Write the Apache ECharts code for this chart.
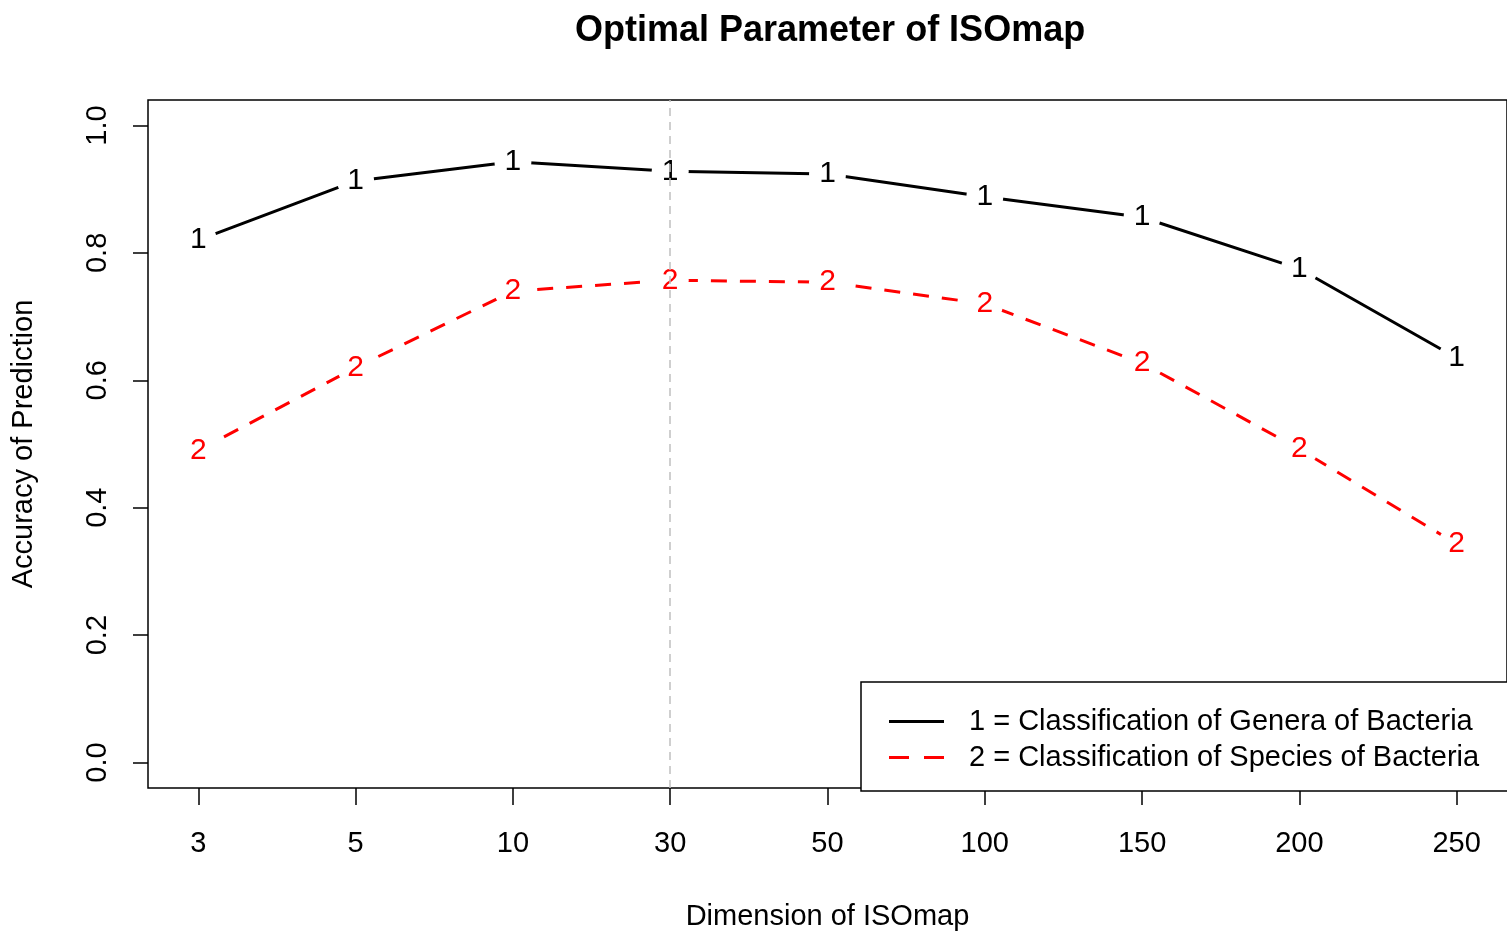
<!DOCTYPE html>
<html>
<head>
<meta charset="utf-8">
<title>Optimal Parameter of ISOmap</title>
<script src="https://cdn.jsdelivr.net/npm/echarts@6/dist/echarts.min.js"></script>
<style>
  html, body { margin: 0; padding: 0; background: #fff; overflow: hidden; }
  #chart-container { width: 1507px; height: 936px; }
</style>
</head>
<body>
<div id="chart-container"></div>
<script>
var dom = document.getElementById("chart-container");
var myChart = echarts.init(dom, null, { renderer: "canvas" });

// data
const dims = ["3", "5", "10", "30", "50", "100", "150", "200", "250"];
const generaAcc = [0.82, 0.913, 0.943, 0.928, 0.924, 0.888, 0.856, 0.775, 0.635];
const speciesAcc = [0.49, 0.62, 0.74, 0.757, 0.754, 0.72, 0.627, 0.492, 0.343];
const yTicks = [0, 0.2, 0.4, 0.6, 0.8, 1.0];
const optimalIndex = 3; // dimension 30

const generaName = "1 = Classification of Genera of Bacteria";
const speciesName = "2 = Classification of Species of Bacteria";

const FONT = "Liberation Sans, Arial, sans-serif";
const xIdx = dims.map(function (d, i) { return i; });

function toPairs(arr) {
  return arr.map(function (v, i) { return [i, v]; });
}

function pointSeries(name, values, color, mark, dashed) {
  return {
    name: name,
    type: "line",
    data: toPairs(values),
    z: 2,
    symbol: "circle",
    symbolSize: 37,
    showSymbol: true,
    itemStyle: { color: "#ffffff" },
    lineStyle: {
      color: color,
      width: 3,
      type: dashed ? [16, 13] : "solid",
    },
    label: {
      show: true,
      position: "inside",
      formatter: mark,
      color: color,
      fontFamily: FONT,
      fontSize: 30,
    },
    emphasis: { disabled: true },
    tooltip: { show: false },
  };
}

var option = {
  backgroundColor: "#ffffff",
  animation: false,
  title: {
    text: "Optimal Parameter of ISOmap",
    left: 570,
    top: 8,
    textStyle: {
      fontFamily: FONT,
      fontSize: 36,
      fontWeight: "bold",
      color: "#000",
    },
  },
  legend: {
    orient: "vertical",
    left: 861,
    top: 682,
    padding: [25, 40, 19, 28],
    itemGap: 7,
    itemWidth: 55,
    itemHeight: 3,
    backgroundColor: "#ffffff",
    borderColor: "#000",
    borderWidth: 1.5,
    z: 10,
    selectedMode: false,
    textStyle: {
      fontFamily: FONT,
      fontSize: 29,
      color: "#000",
      padding: [0, 0, 0, 20],
    },
    data: [
      { name: generaName, icon: "rect", itemStyle: { color: "#000" } },
      {
        name: speciesName,
        icon: "path://M0,0H20V3H0Z M35,0H55V3H35Z",
        itemStyle: { color: "#ff0000" },
      },
    ],
  },
  grid: {
    left: 148,
    right: 0,
    top: 100,
    bottom: 139,
    show: true,
    borderColor: "#000",
    borderWidth: 1.5,
  },
  xAxis: {
    type: "value",
    min: -0.32,
    max: 8.32,
    name: "Dimension of ISOmap",
    nameLocation: "middle",
    nameGap: 114,
    nameTextStyle: { fontFamily: FONT, fontSize: 29, color: "#000" },
    axisLine: { show: false, onZero: false },
    splitLine: { show: false },
    axisTick: {
      show: true,
      length: 17,
      customValues: xIdx,
      lineStyle: { color: "#000", width: 1.5 },
    },
    axisLabel: {
      customValues: xIdx,
      margin: 41,
      fontFamily: FONT,
      fontSize: 29,
      color: "#000",
      formatter: function (v) { return dims[Math.round(v)]; },
    },
  },
  yAxis: {
    type: "value",
    min: -0.04,
    max: 1.04,
    name: "Accuracy of Prediction",
    nameLocation: "middle",
    nameRotate: 90,
    nameGap: 110,
    nameTextStyle: { fontFamily: FONT, fontSize: 29, color: "#000" },
    axisLine: { show: false, onZero: false },
    splitLine: { show: false },
    axisTick: {
      show: true,
      length: 15,
      customValues: yTicks,
      lineStyle: { color: "#000", width: 1.5 },
    },
    axisLabel: {
      customValues: yTicks,
      rotate: 90,
      margin: 36,
      fontFamily: FONT,
      fontSize: 29,
      color: "#000",
      formatter: function (v) { return v.toFixed(1); },
    },
  },
  series: [
    pointSeries(generaName, generaAcc, "#000000", "1", false),
    pointSeries(speciesName, speciesAcc, "#ff0000", "2", true),
    {
      type: "line",
      data: [],
      z: 5,
      silent: true,
      markLine: {
        silent: true,
        symbol: ["none", "none"],
        label: { show: false },
        lineStyle: { color: "#c0c0c0", type: [8, 6], width: 1.5 },
        data: [{ xAxis: optimalIndex }],
      },
    },
  ],
};

myChart.setOption(option);
window.addEventListener("resize", myChart.resize);
</script>
</body>
</html>
